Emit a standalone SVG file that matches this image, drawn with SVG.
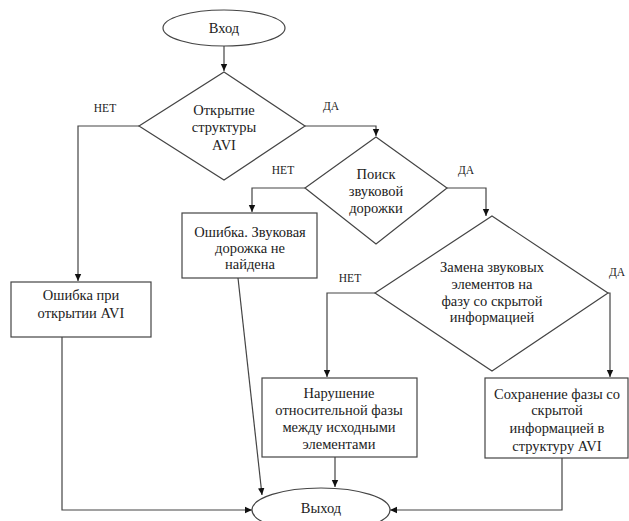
<svg xmlns="http://www.w3.org/2000/svg" width="629" height="521" viewBox="0 0 629 521">
<style>
.shape{fill:#fff;stroke:#444;stroke-width:1.2}
.conn{fill:none;stroke:#444;stroke-width:1.2}
.t{font-family:"Liberation Serif","Times New Roman",serif;font-size:14.5px;fill:#222;text-anchor:middle}
.lbl{font-family:"Liberation Serif","Times New Roman",serif;font-size:11.5px;fill:#222;text-anchor:middle}
</style>
<defs>
<marker id="arr" markerWidth="8" markerHeight="8" refX="7" refY="4" orient="auto" markerUnits="userSpaceOnUse">
<path d="M0,0.8 L7,4 L0,7.2 Z" fill="#111"/>
</marker>
</defs>
<rect width="629" height="521" fill="#fff"/>
<g id="connectors">
<path class="conn" d="M224,46 V71" marker-end="url(#arr)"/>
<path class="conn" d="M139,126 H78 V281" marker-end="url(#arr)"/>
<path class="conn" d="M305,126 H376 V136" marker-end="url(#arr)"/>
<path class="conn" d="M305,188 H252 V212" marker-end="url(#arr)"/>
<path class="conn" d="M447,188 H486 V216" marker-end="url(#arr)"/>
<path class="conn" d="M375,293 H327 V377" marker-end="url(#arr)"/>
<path class="conn" d="M608,293 H610 V377" marker-end="url(#arr)"/>
<path class="conn" d="M62,337 V510 H252" marker-end="url(#arr)"/>
<path class="conn" d="M238,278 L262,495" marker-end="url(#arr)"/>
<path class="conn" d="M335,457 V487" marker-end="url(#arr)"/>
<path class="conn" d="M562,458 V510 H390" marker-end="url(#arr)"/>
<text class="lbl" x="105" y="112">НЕТ</text>
<text class="lbl" x="331" y="110">ДА</text>
<text class="lbl" x="283" y="174">НЕТ</text>
<text class="lbl" x="466" y="174">ДА</text>
<text class="lbl" x="350" y="282">НЕТ</text>
<text class="lbl" x="617" y="276">ДА</text>
</g>
<g id="start">
<ellipse class="shape" cx="224" cy="28" rx="61" ry="18"/>
<text class="t" x="224" y="33">Вход</text>
</g>
<g id="d1">
<polygon class="shape" points="224,72 305,126 224,180 139,126"/>
<text class="t" x="224" y="115">Открытие</text>
<text class="t" x="224" y="132">структуры</text>
<text class="t" x="224" y="150">AVI</text>
</g>
<g id="err1">
<rect class="shape" x="11" y="282" width="140" height="55"/>
<text class="t" x="81" y="300">Ошибка при</text>
<text class="t" x="81" y="318">открытии AVI</text>
</g>
<g id="d2">
<polygon class="shape" points="376,137 447,188 376,244 305,188"/>
<text class="t" x="376" y="179">Поиск</text>
<text class="t" x="376" y="196">звуковой</text>
<text class="t" x="376" y="213">дорожки</text>
</g>
<g id="err2">
<rect class="shape" x="182" y="213" width="135" height="65"/>
<text class="t" x="250" y="237">Ошибка. Звуковая</text>
<text class="t" x="250" y="253">дорожка не</text>
<text class="t" x="250" y="269">найдена</text>
</g>
<g id="d3">
<polygon class="shape" points="492,216 608,293 492,371 375,293"/>
<text class="t" x="492" y="272">Замена звуковых</text>
<text class="t" x="492" y="289">элементов на</text>
<text class="t" x="492" y="306">фазу со скрытой</text>
<text class="t" x="492" y="322">информацией</text>
</g>
<g id="viol">
<rect class="shape" x="262" y="378" width="155" height="79"/>
<text class="t" x="339" y="398">Нарушение</text>
<text class="t" x="339" y="415">относительной фазы</text>
<text class="t" x="339" y="432">между исходными</text>
<text class="t" x="339" y="449">элементами</text>
</g>
<g id="save">
<rect class="shape" x="485" y="378" width="143" height="80"/>
<text class="t" x="557" y="399">Сохранение фазы со</text>
<text class="t" x="557" y="415">скрытой</text>
<text class="t" x="557" y="433">информацией в</text>
<text class="t" x="557" y="451">структуру AVI</text>
</g>
<g id="exit">
<ellipse class="shape" cx="321" cy="510" rx="69" ry="22"/>
<text class="t" x="321" y="513">Выход</text>
</g>
</svg>
